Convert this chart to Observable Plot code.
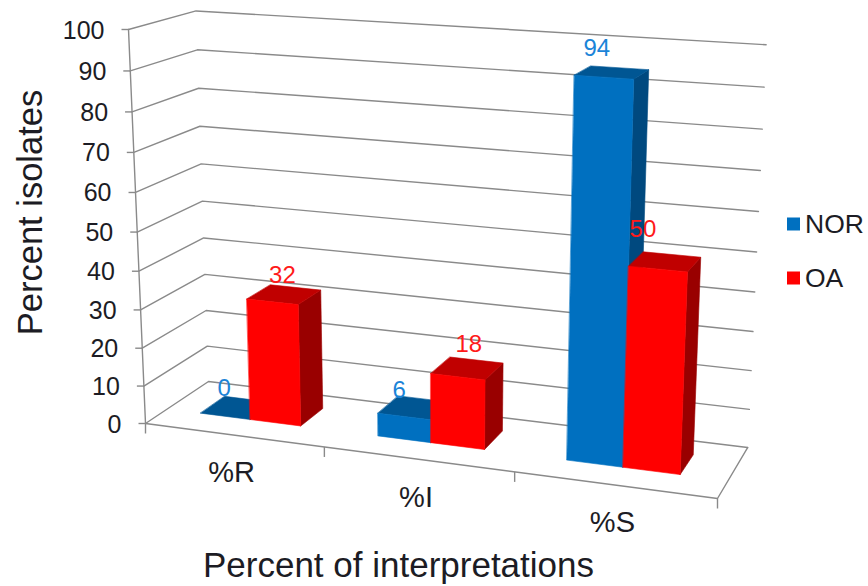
<!DOCTYPE html>
<html>
<head>
<meta charset="utf-8">
<script src="https://cdn.jsdelivr.net/npm/d3@7"></script>
<script src="https://cdn.jsdelivr.net/npm/@observablehq/plot@0.6"></script>
<style>
  html, body { margin: 0; padding: 0; background: #fff; }
</style>
</head>
<body>
<div id="chart"></div>
<script>
// Chart values
const categories = ["%R", "%I", "%S"];
const norValues = [0, 6, 94];
const oaValues = [32, 18, 50];
const valueTicks = [0, 10, 20, 30, 40, 50, 60, 70, 80, 90, 100];
const seriesNames = ["NOR", "OA"];

// Hand placement of the value labels relative to the bar top, per category
const norLabelNudge = [[-1, -28], [-5, -26], [-7, -29]];
const oaLabelNudge = [[10, -27], [11, -32], [-15, -40]];

// Face colours per series
const shades = {
  NOR: {front: "#0070c0", top: "#005693", right: "#00497f", label: "#1b84d8"},
  OA: {front: "#ff0000", top: "#c00000", right: "#990000", label: "#ff1a1a"}
};

const width = 868, height = 586;
const fontFamily = "'Liberation Sans', Arial, sans-serif";
const ink = "#1c1c24";
const rule = "#8a8a8a";

// Perspective camera for the plot box.
// u runs along the categories, v up the value axis, w from front to back; all 0..1.
const origin = [145, 423], uEnd = [717, 498], vEnd = [128, 29], wEnd = [208, 381];
const du = -0.09, dv = -0.055, dw = 0.066;
function project(u, v, w) {
  const d = 1 + du * u + dv * v + dw * w;
  const c = (i) =>
    (origin[i] +
      (uEnd[i] * (1 + du) - origin[i]) * u +
      (vEnd[i] * (1 + dv) - origin[i]) * v +
      (wEnd[i] * (1 + dw) - origin[i]) * w) / d;
  return [c(0), c(1)];
}
const pt = (u, v, w) => {
  const [x, y] = project(u, v, w);
  return {x, y};
};

const catWidth = 1 / categories.length;
const barWidth = catWidth / 3.5;
const barShift = -0.007;
const wFront = 1 / 3, wBack = 0.73;

// Wall and floor grid: front-left -> back-left -> back-right at each tick value
const grid = valueTicks.flatMap((t) => [
  {...pt(0, t / 100, 0), t},
  {...pt(0, t / 100, 1), t},
  {...pt(1, t / 100, 1), t}
]);

const floorEdge = [pt(0, 0, 0), pt(1, 0, 0), pt(1, 0, 1)];
const valueAxis = [pt(0, 0, 0), pt(0, 1, 0)];

const valueTickMarks = valueTicks.map((t) => ({...pt(0, t / 100, 0), t}));
const catTickMarks = d3.range(categories.length + 1).map((i) => pt(i * catWidth, 0, 0));

// Three visible faces of one bar, in painting order
function barFaces(u0, u1, value, s) {
  const v = value / 100;
  const faces = [
    {fill: shades[s].right, pts: [pt(u1, 0, wFront), pt(u1, 0, wBack), pt(u1, v, wBack), pt(u1, v, wFront)]},
    {fill: shades[s].top, pts: [pt(u0, v, wFront), pt(u1, v, wFront), pt(u1, v, wBack), pt(u0, v, wBack)]}
  ];
  if (v > 0) faces.push({fill: shades[s].front, pts: [pt(u0, 0, wFront), pt(u1, 0, wFront), pt(u1, v, wFront), pt(u0, v, wFront)]});
  return faces;
}

const faces = categories.flatMap((_, i) => {
  const c = (i + 0.5) * catWidth + barShift;
  return [
    ...barFaces(c - barWidth, c, norValues[i], "NOR"),
    ...barFaces(c, c + barWidth, oaValues[i], "OA")
  ];
});

// Value labels sit above the centre of each bar top
const valueLabels = categories.flatMap((_, i) => {
  const c = (i + 0.5) * catWidth + barShift;
  const a = pt(c - barWidth / 2, norValues[i] / 100, wFront);
  const b = pt(c + barWidth / 2, oaValues[i] / 100, wFront);
  return [
    {x: a.x + norLabelNudge[i][0], y: a.y + norLabelNudge[i][1], text: String(norValues[i]), s: "NOR"},
    {x: b.x + oaLabelNudge[i][0], y: b.y + oaLabelNudge[i][1], text: String(oaValues[i]), s: "OA"}
  ];
});

const catLabels = categories.map((name, i) => {
  const p = pt((i + 0.5) * catWidth, 0, 0);
  return {x: p.x - 2, y: p.y + 38, name};
});

const legend = seriesNames.map((name, i) => ({name, x: 793.5, y: 224 + i * 54}));

const faceMarks = faces.map((f) =>
  Plot.line(f.pts, {x: "x", y: "y", curve: "linear-closed", fill: f.fill, stroke: f.fill, strokeWidth: 0.6})
);

const plot = Plot.plot({
  width,
  height,
  margin: 0,
  style: {background: "#fff", fontFamily},
  x: {domain: [0, width], range: [0, width], axis: null},
  y: {domain: [0, height], range: [0, height], axis: null},
  marks: [
    Plot.line(grid, {x: "x", y: "y", z: "t", stroke: rule, strokeWidth: 1.4}),
    Plot.line(floorEdge, {x: "x", y: "y", stroke: rule, strokeWidth: 1.4}),
    Plot.line(valueAxis, {x: "x", y: "y", stroke: rule, strokeWidth: 1.4}),
    Plot.link(valueTickMarks, {x1: "x", y1: "y", x2: (d) => d.x - 7, y2: "y", stroke: rule, strokeWidth: 1.4}),
    Plot.link(catTickMarks, {x1: "x", y1: "y", x2: "x", y2: (d) => d.y + 10, stroke: rule, strokeWidth: 1.4}),
    ...faceMarks,
    Plot.text(valueTickMarks, {
      x: (d) => d.x - 24, y: (d) => d.y + 1, text: (d) => String(d.t),
      textAnchor: "end", fontSize: 25, fill: ink
    }),
    Plot.text(valueLabels.filter((d) => d.s === "NOR"), {
      x: "x", y: "y", text: "text", fontSize: 24, fill: shades.NOR.label
    }),
    Plot.text(valueLabels.filter((d) => d.s === "OA"), {
      x: "x", y: "y", text: "text", fontSize: 24, fill: shades.OA.label
    }),
    Plot.text(catLabels, {x: "x", y: "y", text: "name", fontSize: 29, fill: ink}),
    Plot.rect(legend, {
      x1: (d) => d.x - 6.5, x2: (d) => d.x + 6.5, y1: (d) => d.y - 6.5, y2: (d) => d.y + 6.5,
      fill: (d) => shades[d.name].front
    }),
    Plot.text(legend, {
      x: (d) => d.x + 11, y: "y", text: "name", textAnchor: "start", fontSize: 26.5, fill: ink
    }),
    Plot.text(["Percent isolates"], {
      x: 30, y: 212, text: (d) => d, rotate: -90, fontSize: 34.5, fill: ink
    }),
    Plot.text(["Percent of interpretations"], {
      x: 398, y: 565, text: (d) => d, fontSize: 35, fill: ink
    })
  ]
});

document.getElementById("chart").appendChild(plot);
</script>
</body>
</html>
